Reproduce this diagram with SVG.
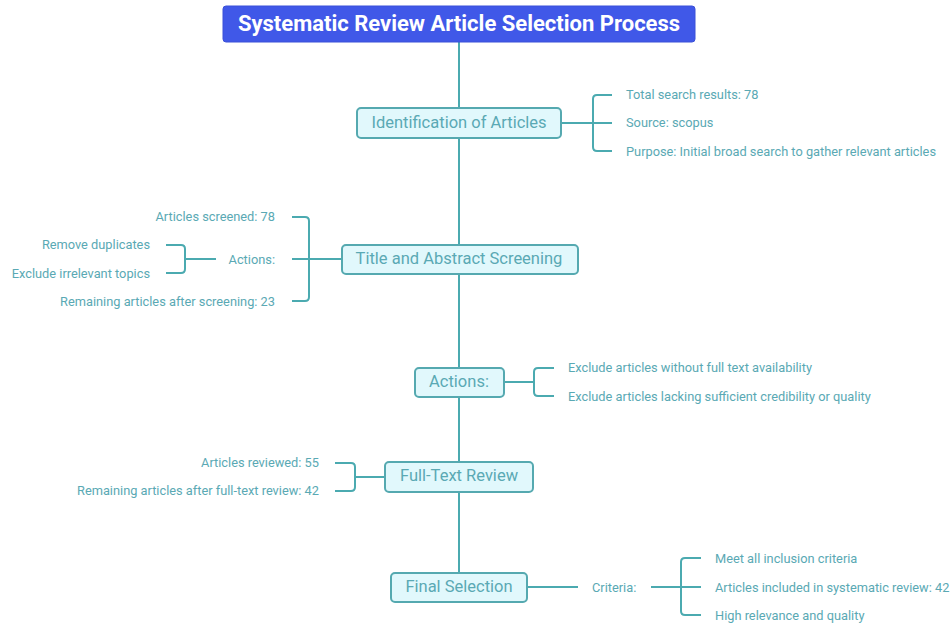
<svg xmlns="http://www.w3.org/2000/svg" width="951" height="624" viewBox="0 0 951 624">
<style>
.bg{fill:#ffffff}
.title{fill:#4058E8;stroke:#3A50D8;stroke-width:1}
.tt{font-family:Roboto,"Liberation Sans",sans-serif;font-size:22px;font-weight:bold;fill:#ffffff;text-anchor:middle;dominant-baseline:central}
.node{fill:#E1F8FC;stroke:#55A9B0;stroke-width:2}
.nt{font-family:Roboto,"Liberation Sans",sans-serif;font-size:16.5px;fill:#5AA9B4;text-anchor:middle;dominant-baseline:central}
.lt{font-family:Roboto,"Liberation Sans",sans-serif;font-size:12.8px;fill:#5AA9B4;dominant-baseline:central}
.r{text-anchor:end}
.c{fill:none;stroke:#4BAAB0;stroke-width:2;stroke-linejoin:round}
</style>
<rect class="bg" x="0" y="0" width="951" height="624"/>
<g id="connectors">
<path class="c" d="M459,42 V573"/>
<path class="c" d="M561,123 H593 M612,95 H597 Q593,95 593,99 V147 Q593,151 597,151 H612 M593,123 H612"/>
<path class="c" d="M342,259 H309 M292,217 H305 Q309,217 309,221 V297 Q309,301 305,301 H292 M309,259 H292"/>
<path class="c" d="M216,259 H185 M166,245 H181 Q185,245 185,249 V269 Q185,273 181,273 H166"/>
<path class="c" d="M504,382 H534 M554,368 H538 Q534,368 534,372 V392 Q534,396 538,396 H554"/>
<path class="c" d="M385,477 H355 M335,463 H351 Q355,463 355,467 V487 Q355,491 351,491 H335"/>
<path class="c" d="M527,587 H578 M651,587 H681 M701,558 H685 Q681,558 681,562 V611 Q681,615 685,615 H701 M681,587 H701"/>
</g>
<g id="title">
<rect class="title" x="223" y="6" width="472" height="36" rx="3"/>
<text class="tt" x="459" y="23">Systematic Review Article Selection Process</text>
</g>
<g id="identification">
<rect class="node" x="357" y="108" width="204" height="30" rx="4"/>
<text class="nt" x="459" y="122">Identification of Articles</text>
</g>
<g id="identification-details">
<text class="lt" x="626" y="94">Total search results: 78</text>
<text class="lt" x="626" y="122">Source: scopus</text>
<text class="lt" x="626" y="151">Purpose: Initial broad search to gather relevant articles</text>
</g>
<g id="screening">
<rect class="node" x="342" y="245" width="236" height="29" rx="4"/>
<text class="nt" x="459" y="258">Title and Abstract Screening</text>
</g>
<g id="screening-details">
<text class="lt r" x="275" y="216">Articles screened: 78</text>
<text class="lt r" x="275" y="259">Actions:</text>
<text class="lt r" x="275" y="301">Remaining articles after screening: 23</text>
<text class="lt r" x="150" y="244">Remove duplicates</text>
<text class="lt r" x="150" y="273">Exclude irrelevant topics</text>
</g>
<g id="actions">
<rect class="node" x="415" y="368" width="89" height="29" rx="4"/>
<text class="nt" x="459" y="381">Actions:</text>
</g>
<g id="actions-details">
<text class="lt" x="568" y="367">Exclude articles without full text availability</text>
<text class="lt" x="568" y="396">Exclude articles lacking sufficient credibility or quality</text>
</g>
<g id="fulltext">
<rect class="node" x="385" y="462" width="148" height="30" rx="4"/>
<text class="nt" x="459" y="475">Full-Text Review</text>
</g>
<g id="fulltext-details">
<text class="lt r" x="319" y="462">Articles reviewed: 55</text>
<text class="lt r" x="319" y="490">Remaining articles after full-text review: 42</text>
</g>
<g id="final">
<rect class="node" x="391" y="573" width="136" height="29" rx="4"/>
<text class="nt" x="459" y="586">Final Selection</text>
</g>
<g id="final-details">
<text class="lt" x="592" y="587">Criteria:</text>
<text class="lt" x="715" y="558">Meet all inclusion criteria</text>
<text class="lt" x="715" y="587">Articles included in systematic review: 42</text>
<text class="lt" x="715" y="615">High relevance and quality</text>
</g>
</svg>
